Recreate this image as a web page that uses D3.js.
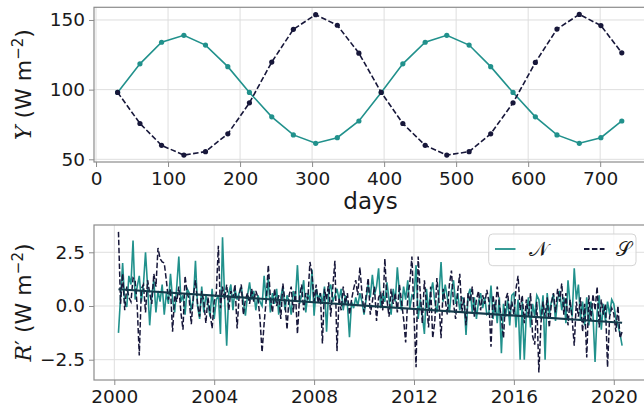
<!DOCTYPE html>
<html>
<head>
<meta charset="utf-8">
<script src="https://cdn.jsdelivr.net/npm/d3@7"></script>
<style>
  html, body { margin:0; padding:0; background:#fff; }
  svg { display:block; font-family:'DejaVu Sans', sans-serif; }
</style>
</head>
<body>
<script>
'use strict';
// top panel: seasonal cycle, one point per month
const days = [30, 61, 91, 122, 152, 183, 213, 244, 274, 305, 335, 365, 396, 426, 457, 487, 518, 548, 579, 610, 640, 671, 701, 730];
const northY = [98, 118.5, 134, 139, 132, 116.5, 98, 80.5, 67.5, 61.5, 65.5, 77.5, 98, 118.5, 134, 139, 132, 116.5, 98, 80.5, 67.5, 61.5, 65.5, 77.5];
const southY = [98, 75.7, 60, 53, 55.5, 68.3, 90.5, 119.8, 143.3, 153.8, 146.2, 126.2, 98, 75.7, 60, 53, 55.5, 68.3, 90.5, 119.5, 143.5, 154, 146, 126.4];
const dayTicks = [0, 100, 200, 300, 400, 500, 600, 700];
const topYTicks = [50, 100, 150];

// bottom panel: monthly anomalies, March 2000 .. May 2020
const startYear = 2000, startMonth = 2; // 0-based month index of first value
const anomN = [
  -1.25, 0.4, 2.0, 0.2, -0.05, 1.4, 1.0, 3.05, 0.3, 0.9,
  1.4, 0.2, 1.0, 2.5, 0.9, -0.9, 0.5, 1.2, -0.3, 0.7, 0.2, 1.0,
  -0.4, 0.6, 0.1, 1.5, 0.3, -0.3, 0.9, 2.3, 0.2, 0.5, -0.4, 0.8,
  0.6, -0.2, 0.3, 2.1, 0.0, -0.6, 0.9, -0.3, 0.5, 0.1, -0.5, 0.8,
  -0.6, 0.3, 0.5, -1.3, 3.2, 0.4, -1.85, 0.6, 1.0, -0.2, 0.8, 0.3,
  0.6, 0.9, 0.2, -0.45, 0.5, 1.1, 0.3, 0.7, -0.2, 0.5, 0.2, 0.0,
  1.4, 0.2, 1.3, -0.3, 0.6, 0.1, 0.8, -0.4, 0.4, 0.9, -0.2, 0.5,
  0.2, -0.4, 0.7, 0.3, 1.9, 0.1, 0.5, 1.2, -0.3, 0.6, 0.2, 1.7,
  -0.45, 0.8, 0.3, 0.6, 0.1, 0.9, -1.2, 0.7, 1.0, 0.2, 0.5, 0.8,
  0.3, 0.8, -0.2, 0.5, 0.1, -1.45, 0.2, -0.1, 0.4, 0.0, 0.6, 0.2,
  -0.4, 0.3, 1.0, 0.4, 1.45, 0.5, 0.9, 1.75, -0.1, 0.6, 0.2, 1.1,
  0.3, -0.4, 0.8, 0.2, 1.8, 0.6, -0.2, 0.9, 0.3, 1.2, -0.1, 0.5,
  0.4, 1.9, -0.6, 0.3, -0.4, -1.3, 0.8, -0.2, 0.6, 1.1, 0.2, -0.3,
  0.5, 2.05, 0.2, 1.0, 0.4, -0.3, 0.7, 1.2, 0.1, 0.6, -0.2, 0.4,
  0.3, -1.35, 0.5, 0.8, -0.3, 0.4, -0.6, 0.2, 0.6, -0.1, 0.4, -0.4,
  -0.3, 0.95, -0.6, 0.2, -0.8, 0.4, -2.2, 0.1, -0.5, 0.3, -0.9, 0.5,
  0.6, -1.0, 0.3, -2.5, 0.2, -2.5, -0.3, 0.4, -1.0, 0.1, -0.5, 0.5,
  0.3, -0.6, 0.5, -2.5, 0.6, -0.4, 0.2, 0.55, -0.7, 0.3, 0.7, -0.2,
  0.4, -0.8, 1.2, 0.1, -0.5, 1.75, 0.3, 1.0, -0.6, 0.2, -0.9, 0.4,
  -0.9, 0.2, -0.4, -2.6, -0.3, 0.5, -1.1, 0.1, -0.7, 0.2, -0.4, 0.3,
  0.1, -0.6, -0.9, -1.3, -1.85
];
const anomS = [
  3.45, 0.1, 1.5, -0.2, 0.9, 0.4, 0.2, 1.3, 1.2, 0.0,
  -2.3, 0.8, 1.0, -0.3, 1.2, 0.6, 0.1, 1.5, 0.9, 2.7, 2.2, 2.05,
  2.0, 1.2, 0.3, 0.8, -1.2, 0.5, 0.2, 0.9, -0.3, -1.1, 1.4, 0.6,
  0.3, -0.85, 0.5, 1.2, 0.1, -0.5, 0.7, 0.2, -0.8, 0.4, -0.3, -1.05,
  0.2, 0.6, 2.8, -0.1, 0.9, 0.3, 1.0, -0.2, 0.7, 0.4, 1.0, -1.05,
  0.5, 1.0, -0.4, 0.3, 0.6, 0.1, 0.8, 0.2, 0.7, 0.4, -0.6, -2.15,
  -0.8, 0.3, 1.9, 0.4, -0.3, 0.8, 0.0, 0.5, -0.6, 1.05, 0.2, -1.1,
  0.5, 0.9, -0.3, 0.7, -1.3, 0.4, 1.0, -0.2, 0.6, 0.3, 2.05, 1.5,
  0.2, 1.0, 0.1, 0.6, -1.75, 0.8, 0.3, 1.1, -0.5, 0.9, 2.1, -2.1,
  0.4, -0.2, 0.9, 0.1, 0.6, -0.4, 0.3, 0.8, 1.2, 0.5, 1.8, 0.6,
  -0.3, 0.5, 1.3, -0.4, 0.2, 0.9, -0.7, 0.4, 0.6, -0.2, 2.2, 0.3,
  -0.5, 0.8, 0.1, 0.6, -0.3, 1.0, 0.2, -0.6, -1.7, 0.4, 1.1, 2.3,
  -0.4, -2.85, 2.3, 0.6, -0.8, 1.2, 0.1, -1.0, 0.9, -1.5, -0.7, 1.3,
  0.2, -1.5, 0.8, 0.3, -0.4, 1.0, 1.65, 0.1, -0.6, 0.7, 1.5, -0.3,
  0.4, -0.9, 0.6, 0.2, 0.9, -0.5, 0.3, 0.7, -0.2, 0.5, 0.1, 0.75,
  0.2, -1.9, 0.5, -0.3, 0.9, 0.1, -0.6, -1.5, 0.3, 0.6, -0.4, 0.2,
  -0.4, 0.8, 1.4, -0.2, 0.5, -0.8, 0.3, -0.5, 0.6, -1.4, -1.8, 0.2,
  -3.1, -0.8, 0.2, -0.5, 0.4, -1.0, 0.1, 0.6, -0.3, 0.8, 0.2, 1.05,
  -0.4, 0.6, -0.9, 0.3, -0.6, -1.85, 0.2, -0.5, 0.4, -1.2, 0.1, -2.4,
  0.5, -0.7, 0.55, -0.2, 0.9, -1.0, 0.3, -0.4, 0.1, -2.85, -0.5, -0.1,
  -0.35, -1.2, 0.0, -1.5, -1.2
];
const trendEnds = [0.78, -0.78]; // linear trend at first and last month
const yearTicks = [2000, 2004, 2008, 2012, 2016, 2020];
const anomTicks = [-2.5, 0, 2.5];
const legendLabels = ['\u{1D4A9}', '\u{1D4AE}'];

const colN = '#21918c', colS = '#17173a', colTrend = '#143a4a';
const W = 644, H = 410;
const svg = d3.select('body').append('svg').attr('width', W).attr('height', H);

function frame(g, x0, y0, x1, y1) {
  g.append('rect').attr('x', x0).attr('y', y0).attr('width', x1 - x0).attr('height', y1 - y0)
    .attr('fill', 'none').attr('stroke', '#8c8c8c').attr('stroke-width', 1.2);
}
function styleAxis(ax) {
  ax.select('.domain').remove();
  ax.selectAll('.tick line').attr('stroke', '#8c8c8c').attr('stroke-width', 1);
  ax.selectAll('.tick text').attr('fill', '#1a1a1a').style('font-size', '18.5px').style('font-family', 'DejaVu Sans');
}
function ylabel(g, x, y, sym, prime) {
  const t = g.append('text').attr('transform', `translate(${x},${y}) rotate(-90)`)
    .attr('text-anchor', 'middle').attr('fill', '#1a1a1a').style('font-size', '22px');
  t.append('tspan').style('font-family', 'DejaVu Serif').style('font-style', 'italic').text(sym);
  if (prime) t.append('tspan').style('font-family', 'DejaVu Sans').text('\u2032');
  t.append('tspan').text(' (W m');
  t.append('tspan').attr('dy', -8).style('font-size', '15px').text('\u22122');
  t.append('tspan').attr('dy', 8).text(')');
}

// ---------- top panel ----------
const T = { l:94, t:7.3, r:647, b:162 };
const xTop = d3.scaleLinear().domain([-2.8, 765]).range([T.l, T.r]);
const yTop = d3.scaleLinear().domain([48.06, 159.1]).range([T.b, T.t]);
const gt = svg.append('g');
gt.append('g').selectAll('line').data(dayTicks).join('line')
  .attr('x1', d => xTop(d)).attr('x2', d => xTop(d)).attr('y1', T.t).attr('y2', T.b)
  .attr('stroke', '#dedede').attr('stroke-width', 1);
gt.append('g').selectAll('line').data(topYTicks).join('line')
  .attr('y1', d => yTop(d)).attr('y2', d => yTop(d)).attr('x1', T.l).attr('x2', T.r)
  .attr('stroke', '#dedede').attr('stroke-width', 1);

const topLine = (vals) => d3.line().x((d, i) => xTop(days[i])).y(d => yTop(d))(vals);
gt.append('path').attr('d', topLine(northY)).attr('fill', 'none').attr('stroke', colN).attr('stroke-width', 1.6);
gt.append('g').selectAll('circle').data(northY).join('circle')
  .attr('cx', (d, i) => xTop(days[i])).attr('cy', d => yTop(d)).attr('r', 2.6).attr('fill', colN);
gt.append('path').attr('d', topLine(southY)).attr('fill', 'none').attr('stroke', colS)
  .attr('stroke-width', 1.6).attr('stroke-dasharray', '5.5,2.4');
gt.append('g').selectAll('circle').data(southY).join('circle')
  .attr('cx', (d, i) => xTop(days[i])).attr('cy', d => yTop(d)).attr('r', 2.6).attr('fill', colS);
frame(gt, T.l, T.t, T.r, T.b);

styleAxis(gt.append('g').attr('transform', `translate(0,${T.b})`)
  .call(d3.axisBottom(xTop).tickValues(dayTicks).tickSize(5).tickPadding(5)));
styleAxis(gt.append('g').attr('transform', `translate(${T.l},0)`)
  .call(d3.axisLeft(yTop).tickValues(topYTicks).tickSize(5).tickPadding(4)));
gt.append('text').attr('x', (T.l + T.r) / 2).attr('y', 209).attr('text-anchor', 'middle')
  .attr('fill', '#1a1a1a').style('font-size', '23px').text('days');
ylabel(gt, 31, 84.6, 'Y', false);

// ---------- bottom panel ----------
const B = { l:94, t:225, r:647, b:380 };
const monthYear = i => startYear + (startMonth + i) / 12;
const xBot = d3.scaleLinear().domain([1999.187, 2021.33]).range([B.l, B.r]);
const yBot = d3.scaleLinear().domain([-3.445, 3.77]).range([B.b, B.t]);
const gb = svg.append('g');
gb.append('g').selectAll('line').data(yearTicks).join('line')
  .attr('x1', d => xBot(d)).attr('x2', d => xBot(d)).attr('y1', B.t).attr('y2', B.b)
  .attr('stroke', '#dedede').attr('stroke-width', 1);
gb.append('g').selectAll('line').data(anomTicks).join('line')
  .attr('y1', d => yBot(d)).attr('y2', d => yBot(d)).attr('x1', B.l).attr('x2', B.r)
  .attr('stroke', '#dedede').attr('stroke-width', 1);

const botLine = d3.line().x((d, i) => xBot(monthYear(i))).y(d => yBot(d));
gb.append('path').attr('d', botLine(anomN)).attr('fill', 'none').attr('stroke', colN).attr('stroke-width', 1.6);
gb.append('path').attr('d', botLine(anomS)).attr('fill', 'none').attr('stroke', colS)
  .attr('stroke-width', 1.5).attr('stroke-dasharray', '5.5,2.4');
const trendX = [monthYear(0), monthYear(anomN.length - 1)];
gb.append('path').attr('d', d3.line().x((d, i) => xBot(trendX[i])).y(d => yBot(d))(trendEnds))
  .attr('fill', 'none').attr('stroke', colTrend).attr('stroke-width', 2.2);
frame(gb, B.l, B.t, B.r, B.b);

styleAxis(gb.append('g').attr('transform', `translate(0,${B.b})`)
  .call(d3.axisBottom(xBot).tickValues(yearTicks).tickFormat(d3.format('d')).tickSize(5).tickPadding(5)));
styleAxis(gb.append('g').attr('transform', `translate(${B.l},0)`)
  .call(d3.axisLeft(yBot).tickValues(anomTicks).tickFormat(d => d3.format('.1f')(d).replace('-', '\u2212')).tickSize(5).tickPadding(4)));
ylabel(gb, 31, 302.5, 'R', true);

// legend
const lg = gb.append('g');
lg.append('rect').attr('x', 488.7).attr('y', 234).attr('width', 147.3).attr('height', 31.7).attr('rx', 4)
  .attr('fill', 'rgba(255,255,255,0.8)').attr('stroke', '#d4d4d4').attr('stroke-width', 1);
lg.append('line').attr('x1', 495).attr('x2', 515.5).attr('y1', 249).attr('y2', 249).attr('stroke', colN).attr('stroke-width', 1.8);
lg.append('line').attr('x1', 584).attr('x2', 604.5).attr('y1', 249).attr('y2', 249).attr('stroke', colS)
  .attr('stroke-width', 1.8).attr('stroke-dasharray', '5.5,2.4');
lg.selectAll('text').data(legendLabels).join('text')
  .attr('x', (d, i) => i ? 615.5 : 529).attr('y', 256).attr('fill', '#1a1a1a')
  .style('font-size', '20px').style('font-family', "'DejaVu Sans', 'DejaVu Serif', 'Noto Sans', serif")
  .text(d => d);
</script>
</body>
</html>
